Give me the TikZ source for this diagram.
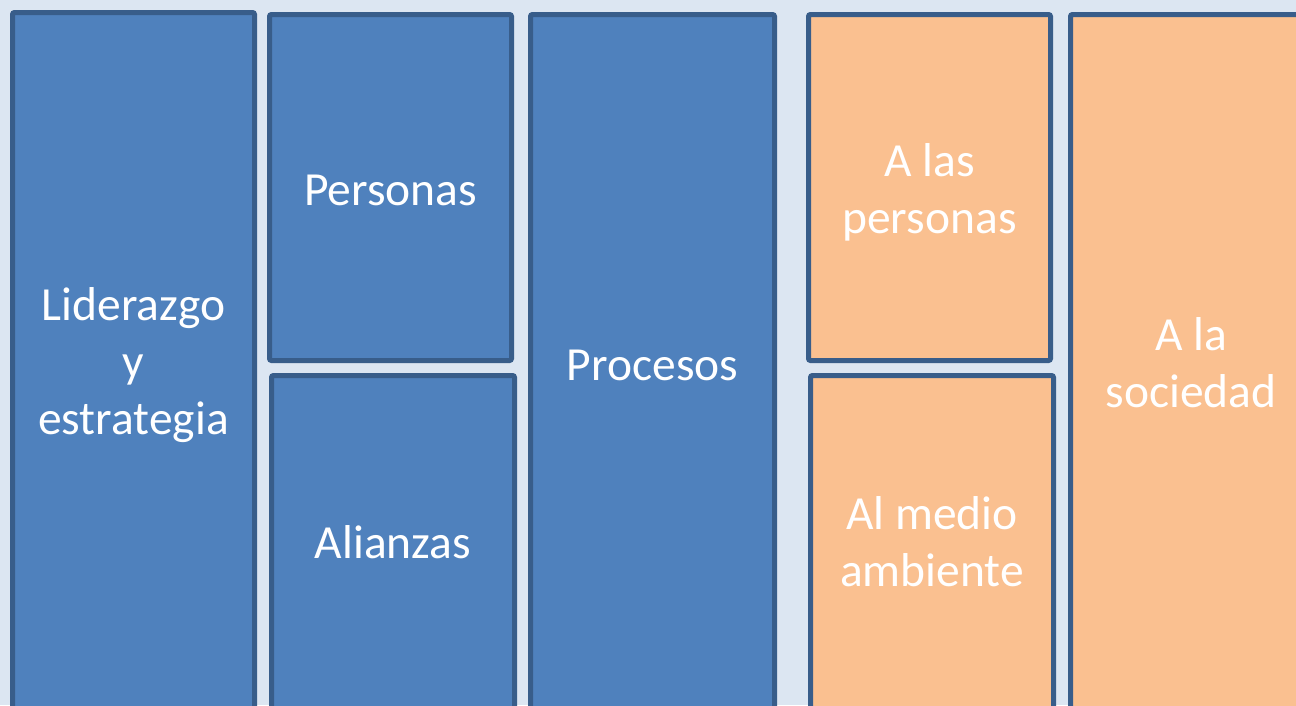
\documentclass[tikz,border=0pt]{standalone}
\usepackage{fontspec}
\setmainfont{Carlito}
\definecolor{bgc}{HTML}{DCE6F2}
\definecolor{bluefill}{HTML}{4F81BD}
\definecolor{blueline}{HTML}{385D8A}
\definecolor{orangefill}{HTML}{FAC090}
\tikzset{
  panel/.style={draw=blueline, line width=5pt, rounded corners=2pt, inner sep=0pt},
  bluebox/.style={panel, fill=bluefill},
  orangebox/.style={panel, fill=orangefill},
  paneltext/.style={text=white, align=center, inner sep=0pt, font=\fontsize{47.5}{57.3}\selectfont},
}
\begin{document}
\begin{tikzpicture}[x=1pt,y={(0pt,-1pt)}]
\useasboundingbox (0,0) rectangle (1296,705);
\fill[bgc] (0,0) rectangle (1296,705);
\clip (0,0) rectangle (1296,705);
\node[bluebox, minimum width=242pt, minimum height=699pt,
  label={[paneltext, yshift=-3pt]center:Liderazgo\\y\\estrategia}] (lid) at (133.5,362) {};
\node[bluebox, minimum width=242pt, minimum height=346pt,
  label={[paneltext, yshift=-3pt]center:Personas}] (per) at (390.5,187.5) {};
\node[bluebox, minimum width=243pt, minimum height=336pt,
  label={[paneltext, yshift=1pt]center:Alianzas}] (ali) at (393,543.5) {};
\node[bluebox, minimum width=244pt, minimum height=701pt,
  label={[paneltext]center:Procesos}] (pro) at (652.5,365) {};
\node[orangebox, minimum width=242pt, minimum height=346pt,
  label={[paneltext, yshift=-5pt]center:A las\\personas}] (apers) at (929.5,187.5) {};
\node[orangebox, minimum width=243pt, minimum height=336pt,
  label={[paneltext, yshift=2pt]center:Al medio\\ambiente}] (amed) at (932,543.5) {};
\node[orangebox, minimum width=241pt, minimum height=699pt,
  label={[paneltext, yshift=1pt]center:A la\\sociedad}] (asoc) at (1191,364) {};
\end{tikzpicture}
\end{document}
